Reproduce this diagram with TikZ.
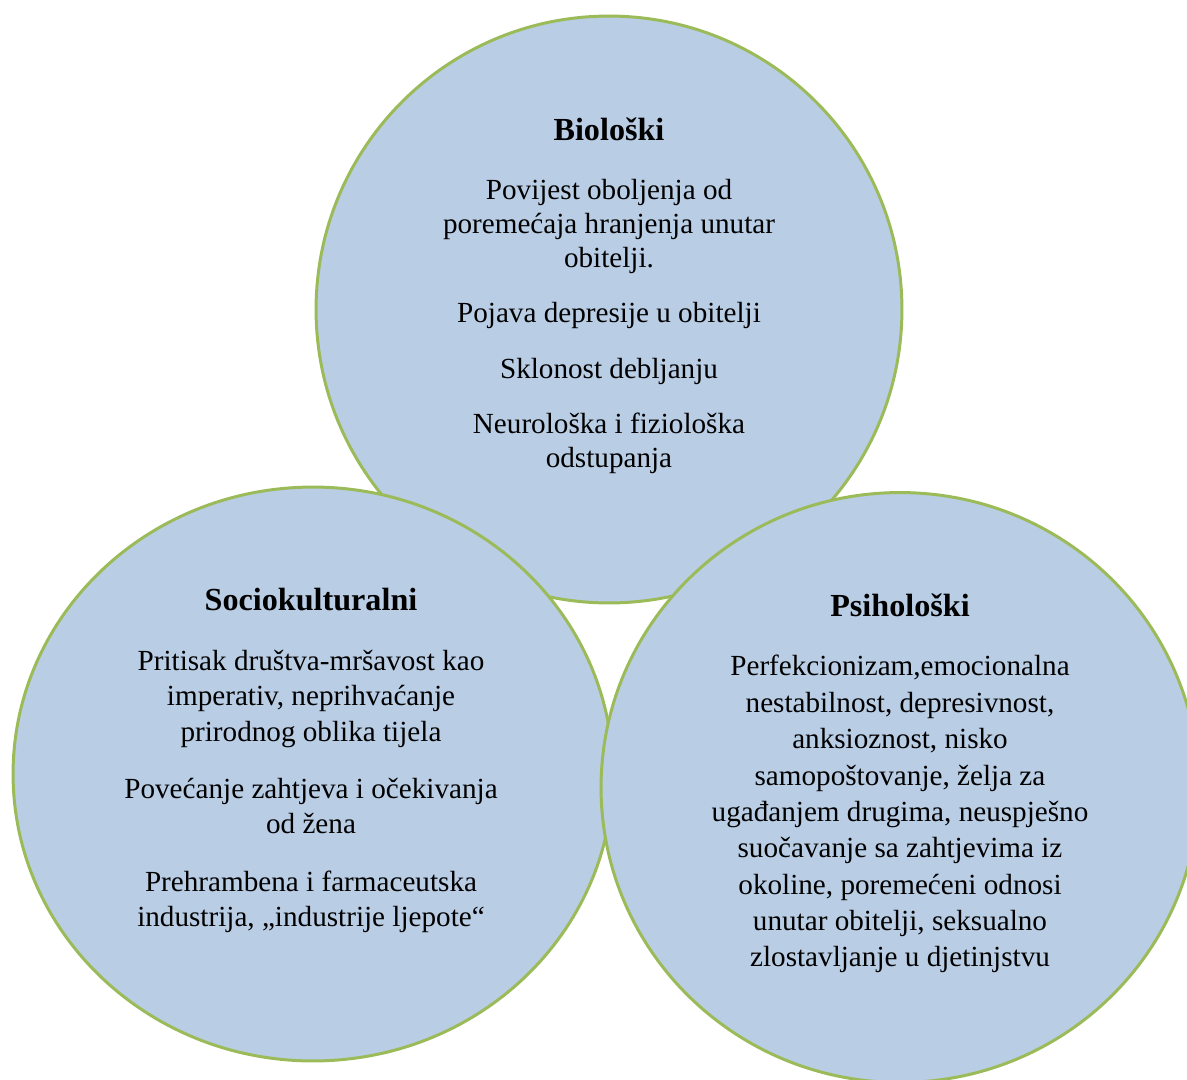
\documentclass[tikz,border=0pt]{standalone}
\usepackage{fontspec}
\setmainfont{Liberation Serif}
\usetikzlibrary{shapes.geometric}

\definecolor{ringBlue}{HTML}{B9CDE5}
\definecolor{ringGreen}{HTML}{9BBB59}

\tikzset{
  krug/.style={ellipse, draw=ringGreen, fill=ringBlue, line width=1.7pt, inner sep=0pt},
  naslov/.style={anchor=base, font=\bfseries\fontsize{18.3}{22}\selectfont},
  tekst/.style={anchor=north, align=center, inner sep=0pt, font=\fontsize{16.6}{20}\selectfont}
}

\begin{document}
\begin{tikzpicture}[x=0.02cm, y=-0.02cm]

        % Okvir slike
        \useasboundingbox (0,0) rectangle (1187,1079);
        \clip (0,0) rectangle (1187,1079);

        % Krugovi (redom: gornji, lijevi, desni)
        \node[krug, minimum width=11.72cm, minimum height=11.74cm] (bio) at (609,309.5) {};
        \node[krug, minimum width=12cm, minimum height=11.48cm] (soc) at (313,774) {};
        \node[krug, minimum width=11.96cm, minimum height=11.8cm] (psi) at (900,787.5) {};

        % Biološki
        \node[naslov] (bioT) at (609,140) {Biološki};
        \node[tekst, font=\fontsize{16.6}{19.4}\selectfont] (bioX) at (609,179)
            {Povijest oboljenja od\\ poremećaja hranjenja unutar\\ obitelji.\\[12pt]
             Pojava depresije u obitelji\\[12pt]
             Sklonost debljanju\\[12pt]
             Neurološka i fiziološka\\ odstupanja};

        % Sociokulturalni
        \node[naslov] (socT) at (311,610) {Sociokulturalni};
        \node[tekst, font=\fontsize{16.6}{20.1}\selectfont] (socX) at (311,650)
            {Pritisak društva-mršavost kao\\ imperativ, neprihvaćanje\\ prirodnog oblika tijela\\[12.5pt]
             Povećanje zahtjeva i očekivanja\\ od žena\\[12.5pt]
             Prehrambena i farmaceutska\\ industrija, „industrije ljepote“};

        % Psihološki
        \node[naslov] (psiT) at (900,616) {Psihološki};
        \node[tekst, font=\fontsize{16.6}{20.7}\selectfont] (psiX) at (900,655)
            {Perfekcionizam,emocionalna\\ nestabilnost, depresivnost,\\ anksioznost, nisko\\
             samopoštovanje, želja za\\ ugađanjem drugima, neuspješno\\
             suočavanje sa zahtjevima iz\\ okoline, poremećeni odnosi\\
             unutar obitelji, seksualno\\ zlostavljanje u djetinjstvu};

\end{tikzpicture}
\end{document}
